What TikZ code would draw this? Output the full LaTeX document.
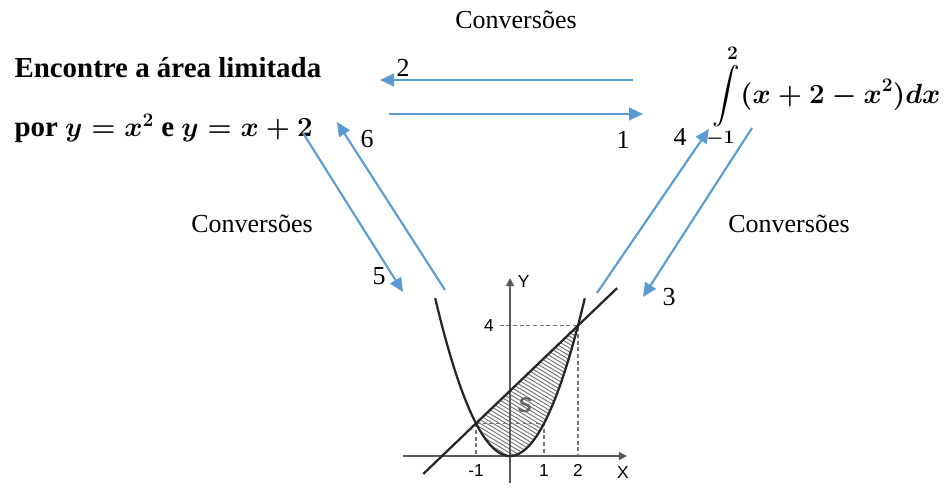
\documentclass[tikz,border=0pt]{standalone}
\usepackage{amsmath}
\usepackage{fontspec}
\setmainfont{Liberation Serif}
\setsansfont{Liberation Sans}
\usetikzlibrary{arrows.meta}

\definecolor{convblue}{RGB}{91,155,213}
\newcommand{\convfont}{\fontsize{19.5}{23}\selectfont}
\newcommand{\titlefont}{\fontsize{21.7}{26}\selectfont\bfseries\boldmath}
\newcommand{\tickfont}{\fontsize{13}{15}\selectfont\sffamily}

\tikzset{every picture/.style={line width=0.75pt}}
\tikzset{
  conv/.style={draw=convblue, line width=1.6pt, -{Triangle[length=10.5pt,width=9.5pt]}},
  curve/.style={draw=black!85, line width=1.7pt},
  guide/.style={draw=black!55, line width=1.2pt, densely dashed},
  axis/.style={draw=black!65, line width=1.3pt, -{Triangle[length=6pt,width=6pt]}},
  hatch/.style={draw=black!55, line width=0.7pt}
}

\begin{document}
\begin{tikzpicture}[x=0.75pt,y=0.75pt,yscale=-1,xscale=1]
\useasboundingbox (0,0) rectangle (946,487);

% Text Node
\draw (516,20) node (convtop) [font=\convfont] {Conversões};
% Text Node
\draw (252,224) node (convleft) [font=\convfont] {Conversões};
% Text Node
\draw (789,224) node (convright) [font=\convfont] {Conversões};
% Text Node
\draw (14,68) node (enunc1) [anchor=west][inner sep=0pt] [font=\titlefont] {Encontre a área limitada};
% Text Node
\draw (14,128) node (enunc2) [anchor=west][inner sep=0pt] [font=\titlefont] {por $y=x^2$ e $y=x+2$};
% Text Node
\draw (712,97) node (integral) [anchor=west][inner sep=0pt] [font=\titlefont] {$\displaystyle\int\limits_{-1}^{2}(x+2-x^2)dx$};

%Arrow ends
\coordinate (a2s) at (633,80);  \coordinate (a2e) at (380,80);
\coordinate (a1s) at (389,114); \coordinate (a1e) at (643,114);
\coordinate (a6s) at (445,290); \coordinate (a6e) at (337,122);
\coordinate (a5s) at (303,133); \coordinate (a5e) at (403,292);
\coordinate (a4s) at (597,293); \coordinate (a4e) at (709,129);
\coordinate (a3s) at (752,128); \coordinate (a3e) at (643,297);

%Straight Lines
\draw [conv] (a2s) -- (a2e) ;
\draw [conv] (a1s) -- (a1e) ;
\draw [conv] (a6s) -- (a6e) ;
\draw [conv] (a5s) -- (a5e) ;
\draw [conv] (a4s) -- (a4e) ;
\draw [conv] (a3s) -- (a3e) ;

% Text Node
\draw (403,68) node (n2) [font=\convfont] {2};
\draw (623,140) node (n1) [font=\convfont] {1};
\draw (367,139) node (n6) [font=\convfont] {6};
\draw (379,276) node (n5) [font=\convfont] {5};
\draw (680,137) node (n4) [font=\convfont] {4};
\draw (669,297) node (n3) [font=\convfont] {3};

%Graph
\begin{scope}[shift={(510,456)},xscale=34,yscale=-32.6]
  \begin{scope}
    \clip (-1,1) -- (2,4) plot[domain=2:-1,samples=40] (\x,{\x*\x}) -- cycle;
    \foreach \k in {0,0.12,...,6.4}
      \draw [hatch] (-1.2,\k) -- (2.2,\k-2.13);
  \end{scope}
  \draw [guide] (-0.3,4) -- (2,4) -- (2,0);
  \draw [guide] (-1,1) -- (1,1) -- (1,0);
  \draw [guide] (-1,1) -- (-1,0);
  \draw [axis] (-3.15,0) -- (3.44,0);
  \draw [axis] (0,-0.83) -- (0,5.46);
  \draw [curve] plot[domain=-2.2:2.2,samples=60,smooth] (\x,{\x*\x});
  \draw [curve] (-2.55,-0.55) -- (3.15,5.15);
  % Text Node
  \draw (-1,-0.45) node (tm1) [font=\tickfont] {-1};
  \draw (1,-0.45) node (t1) [font=\tickfont] {1};
  \draw (2,-0.45) node (t2) [font=\tickfont] {2};
  \draw (-0.62,4) node (t4) [font=\tickfont] {4};
  \draw (0.4,5.34) node (ty) [font=\tickfont] {Y};
  \draw (3.32,-0.52) node (tx) [font=\tickfont] {X};
  \draw (0.44,1.56) node (ts) [font=\fontsize{16}{18}\selectfont\sffamily\bfseries\itshape, text=black!60] {S};
\end{scope}

\end{tikzpicture}
\end{document}
